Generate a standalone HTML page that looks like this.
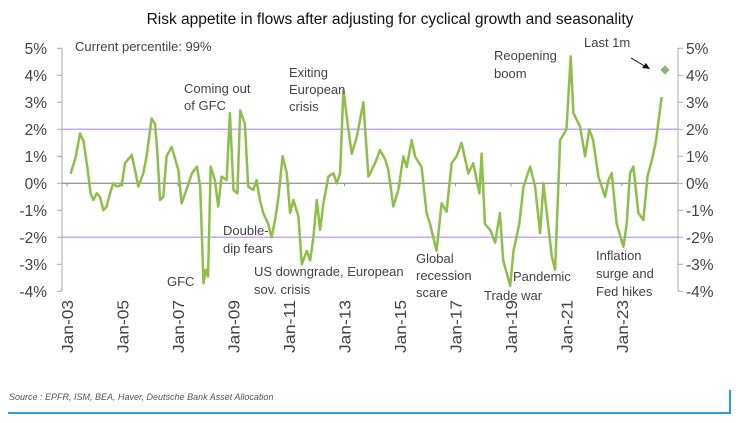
<!DOCTYPE html>
<html><head><meta charset="utf-8"><style>
body{margin:0;background:#fff;width:736px;height:423px;overflow:hidden}
svg{display:block;font-family:"Liberation Sans",sans-serif}
</style></head><body>
<svg id="chart" width="736" height="423" viewBox="0 0 736 423">
<text x="390" y="24" font-size="15.5" text-anchor="middle" fill="#111">Risk appetite in flows after adjusting for cyclical growth and seasonality</text>
<g id="grid"></g><g id="axes"></g>
<path id="line" fill="none" stroke="#8dbf4a" stroke-width="2.5" stroke-linejoin="round"/>
<g id="ann" font-size="13" fill="#444">
<text x="75" y="51">Current percentile: 99%</text>
<text x="184" y="93">Coming out<tspan x="184" dy="17">of GFC</tspan></text>
<text x="289" y="77">Exiting<tspan x="289" dy="17">European</tspan><tspan x="289" dy="17">crisis</tspan></text>
<text x="223" y="235">Double-<tspan x="223" dy="18">dip  fears</tspan></text>
<text x="167" y="286">GFC</text>
<text x="254" y="276">US downgrade, European<tspan x="254" dy="18">sov. crisis</tspan></text>
<text x="416" y="263">Global<tspan x="416" dy="17">recession</tspan><tspan x="416" dy="17">scare</tspan></text>
<text x="484" y="300">Trade war</text>
<text x="513" y="281">Pandemic</text>
<text x="494" y="60">Reopening<tspan x="494" dy="18">boom</tspan></text>
<text x="584" y="47">Last 1m</text>
<text x="596" y="260">Inflation<tspan x="596" dy="18">surge and</tspan><tspan x="596" dy="18">Fed hikes</tspan></text>
<line x1="631" y1="58" x2="648" y2="68" stroke="#111" stroke-width="1"/>
<path d="M650,69 L642,68 L646,63 Z" fill="#111"/>
</g>
<text x="9" y="400" font-size="9" font-style="italic" fill="#555">Source : EPFR, ISM, BEA, Haver, Deutsche Bank Asset Allocation</text>
<path d="M8,413 L730,413 L730,390" fill="none" stroke="#2aa0e0" stroke-width="2"/>
</svg>
<script>
const dates=[2003.13,2003.32,2003.47,2003.6,2003.73,2003.85,2003.95,2004.07,2004.19,2004.31,2004.43,2004.55,2004.67,2004.79,2004.97,2005.09,2005.33,2005.45,2005.57,2005.75,2005.87,2006.05,2006.17,2006.25,2006.35,2006.47,2006.59,2006.77,2006.89,2007.01,2007.13,2007.3,2007.5,2007.68,2007.8,2007.92,2008.0,2008.08,2008.18,2008.33,2008.45,2008.57,2008.75,2008.87,2009.0,2009.14,2009.24,2009.41,2009.53,2009.71,2009.83,2009.95,2010.07,2010.25,2010.37,2010.5,2010.62,2010.77,2010.92,2011.04,2011.16,2011.34,2011.46,2011.64,2011.76,2011.88,2012.0,2012.12,2012.24,2012.42,2012.6,2012.72,2012.84,2012.96,2013.14,2013.26,2013.44,2013.56,2013.68,2013.86,2014.1,2014.28,2014.46,2014.58,2014.76,2014.94,2015.12,2015.24,2015.42,2015.54,2015.78,2015.96,2016.08,2016.32,2016.5,2016.68,2016.86,2017.04,2017.22,2017.46,2017.64,2017.86,2017.94,2018.06,2018.25,2018.43,2018.6,2018.72,2018.97,2019.09,2019.3,2019.45,2019.69,2019.87,2020.05,2020.17,2020.26,2020.47,2020.59,2020.77,2021.0,2021.15,2021.25,2021.49,2021.67,2021.82,2021.96,2022.15,2022.39,2022.51,2022.63,2022.81,2023.05,2023.17,2023.29,2023.41,2023.59,2023.77,2023.92,2024.11,2024.23,2024.43,2024.55];
const values=[0.35,1.0,1.85,1.55,0.6,-0.37,-0.62,-0.37,-0.5,-1.0,-0.86,-0.37,0,-0.12,-0.06,0.74,1.05,0.5,-0.12,0.37,1.0,2.4,2.2,1.23,-0.62,-0.5,1.0,1.35,0.93,0.5,-0.74,-0.25,0.37,0.62,-0.12,-3.7,-3.2,-3.45,0.62,0.12,-0.86,0.25,0.12,2.6,-0.25,-0.37,2.7,2.2,-0.12,-0.25,0.12,-0.62,-1.1,-1.5,-2.0,-1.36,-0.5,1.0,0.37,-1.1,-0.62,-1.23,-3.0,-2.5,-2.85,-2.0,-0.62,-1.73,-0.74,0.25,0.37,0,0.37,3.45,2.0,1.1,1.7,2.35,3.0,0.25,0.74,1.23,0.9,0.5,-0.86,-0.25,1.0,0.6,1.6,1.0,0.6,-1.1,-1.5,-2.5,-0.74,-1.05,0.74,1.0,1.5,0.37,0.74,-0.37,1.1,-1.5,-1.73,-2.2,-1.1,-2.85,-3.8,-2.5,-1.5,-0.12,0.62,-0.12,-1.85,0,-0.86,-2.7,-3.2,1.6,2.0,4.7,2.6,2.1,1.0,2.0,1.6,0.25,-0.5,0.12,0.37,-1.5,-2.35,-1.5,0.37,0.62,-1.1,-1.36,0.25,1.0,1.6,3.2];
const lastDate=2024.55, lastValue=4.2;
const yTicks=[5,4,3,2,1,0,-1,-2,-3,-4];
const xTickYears=[2003,2005,2007,2009,2011,2013,2015,2017,2019,2021,2023];
const X=d=>67+(d-2003)*27.75, Y=v=>183.3-v*27;
const NS="http://www.w3.org/2000/svg";
function mk(p,t,a){const e=document.createElementNS(NS,t);for(const k in a)e.setAttribute(k,a[k]);p.appendChild(e);return e;}
const g=document.getElementById('grid'), ax=document.getElementById('axes');
[2,-2].forEach(v=>{const l=mk(g,'line',{x1:62,x2:678,y1:Y(v),y2:Y(v),stroke:'#c9a6f5','stroke-width':1.5});

});
const z=mk(g,'line',{x1:62,x2:678,y1:Y(0),y2:Y(0),stroke:'#999','stroke-width':1.3});


[62,678].forEach((x,i)=>{const l=mk(ax,'line',{x1:x,x2:x,y1:Y(5),y2:Y(-4),stroke:'#aaa','stroke-width':1});

});
yTicks.forEach(v=>{
 mk(ax,'line',{x1:57,x2:62,y1:Y(v),y2:Y(v),stroke:'#aaa'});
 mk(ax,'line',{x1:678,x2:683,y1:Y(v),y2:Y(v),stroke:'#aaa'});
 const a=mk(ax,'text',{x:47,y:Y(v)+5.5,'font-size':15.5,'text-anchor':'end',fill:'#444'});a.textContent=v+'%';
 
 
 const b=mk(ax,'text',{x:686,y:Y(v)+5.5,'font-size':15.5,fill:'#444'});b.textContent=v+'%';
 
 
});
xTickYears.forEach(yr=>{const x=X(yr);
 mk(ax,'line',{x1:x,x2:x,y1:Y(0),y2:Y(0)+3,stroke:'#999'});
 const t=mk(ax,'text',{transform:`translate(${x+6},300) rotate(-90)`,'font-size':16,'text-anchor':'end',fill:'#444',textLength:53,lengthAdjust:'spacingAndGlyphs'});
 t.textContent='Jan-'+String(yr).slice(2);
 
 });
document.getElementById('line').setAttribute('d',dates.map((d,i)=>(i?'L':'M')+X(d).toFixed(1)+','+Y(values[i]).toFixed(1)).join(' '));
const dx=X(lastDate),dy=Y(lastValue);
const dm=mk(document.getElementById('chart'),'path',{d:`M${dx},${dy-4} L${dx+4},${dy} L${dx},${dy+4} L${dx-4},${dy} Z`,fill:'#8dbf4a',stroke:'#7a9cc6','stroke-width':0.8});


</script>
</body></html>
